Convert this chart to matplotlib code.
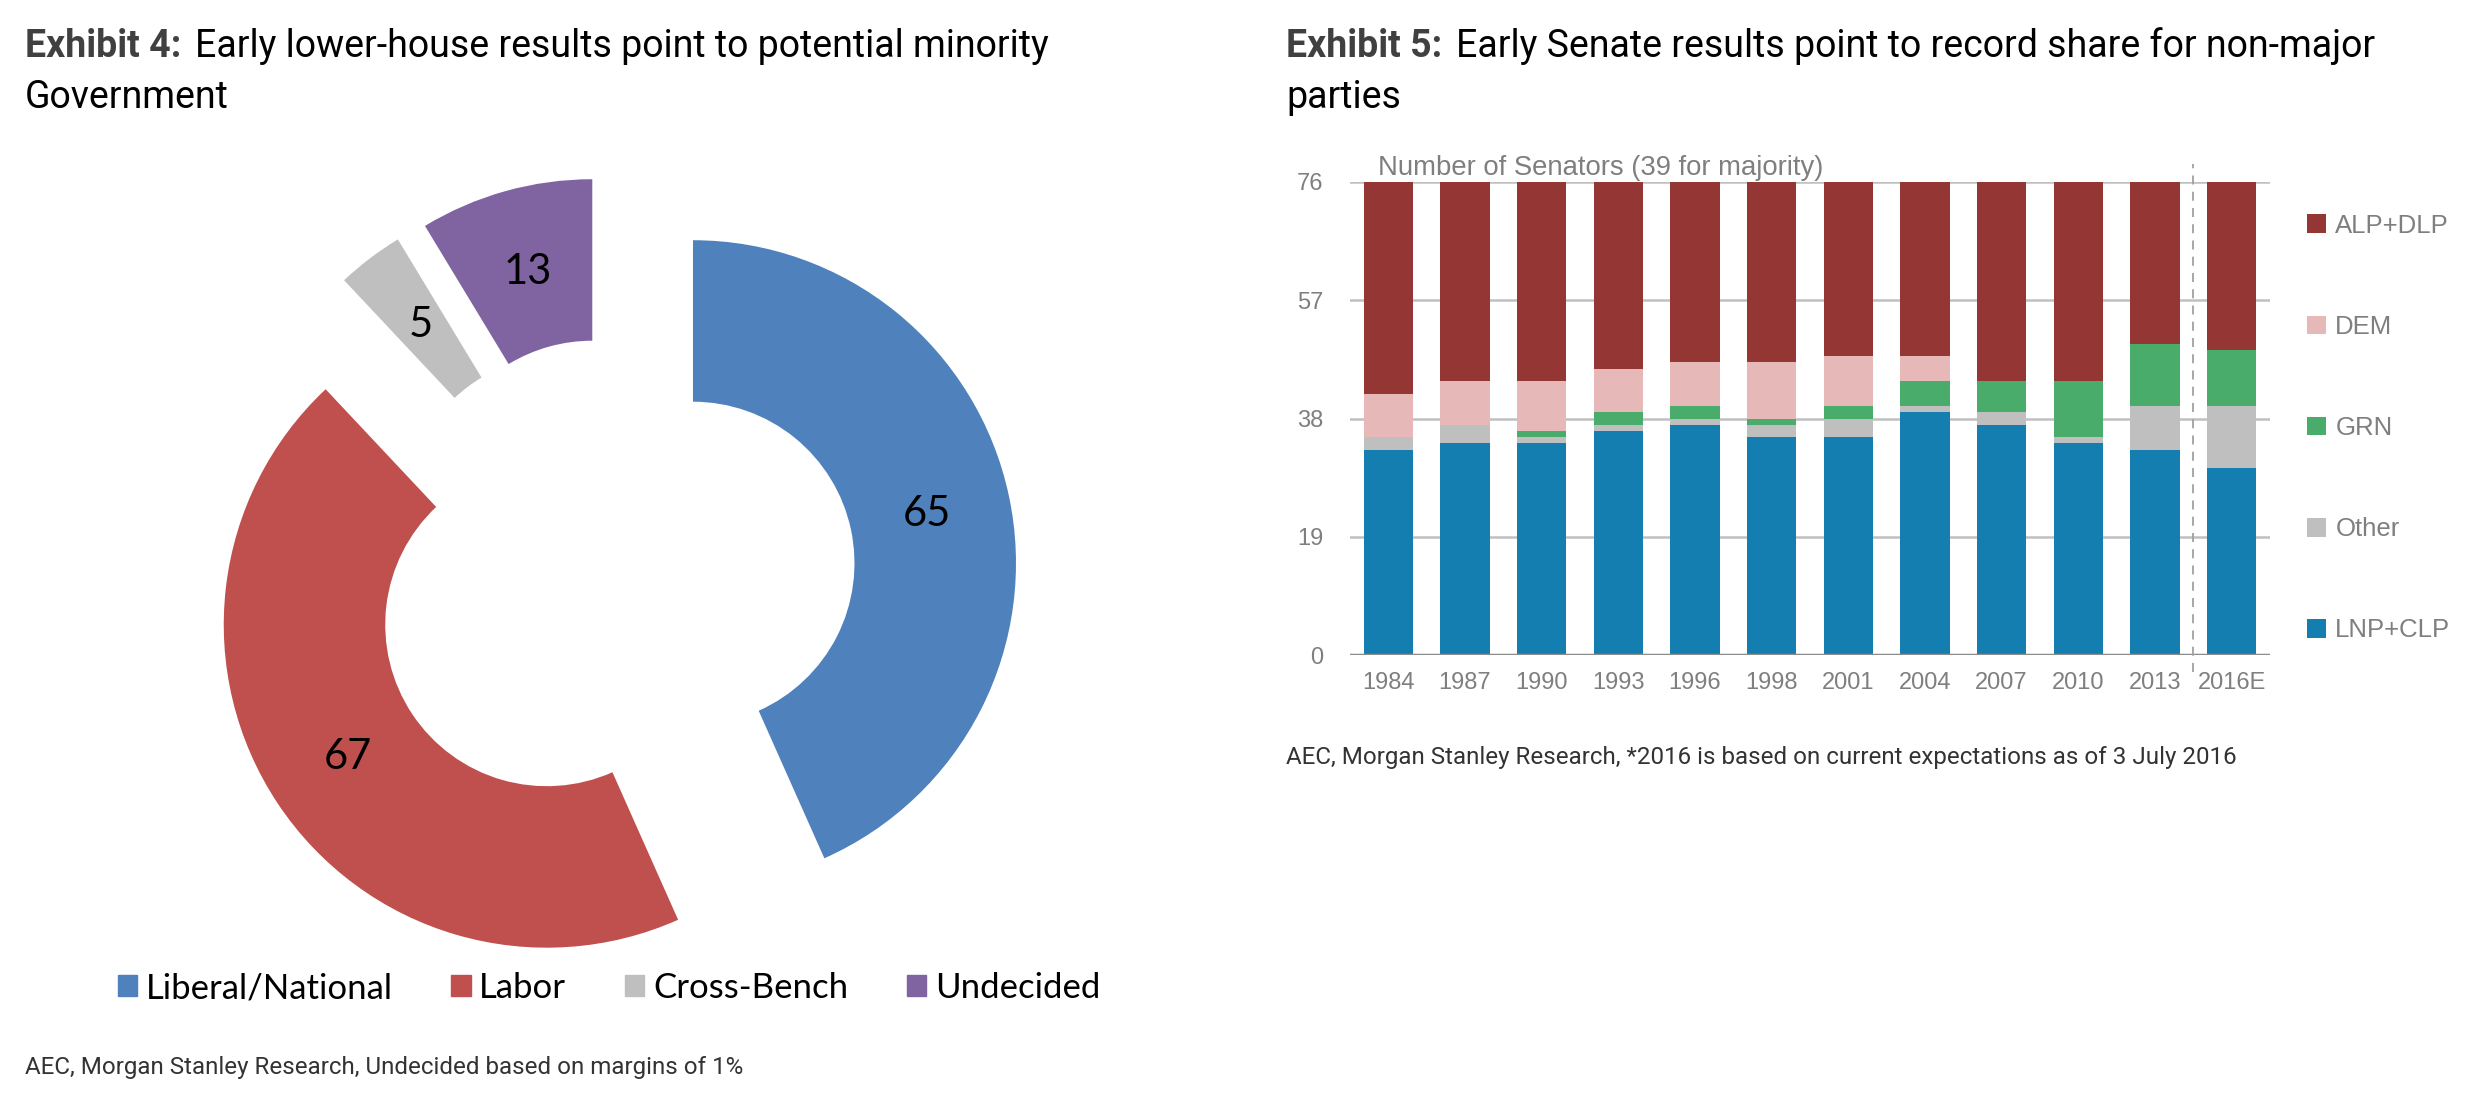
import matplotlib
matplotlib.use('Agg')
import matplotlib.pyplot as plt
from matplotlib.patches import Patch

W, H = 2474, 1099

# exhibit 4 - lower house
house_parties = ['Liberal/National', 'Labor', 'Cross-Bench', 'Undecided']
house_seats = [65, 67, 5, 13]
house_colors = ['#4F81BD', '#C0504D', '#BFBFBF', '#8064A2']

# exhibit 5 - senate
years = ['1984', '1987', '1990', '1993', '1996', '1998', '2001', '2004', '2007', '2010', '2013', '2016E']
lnp_clp = [33, 34, 34, 36, 37, 35, 35, 39, 37, 34, 33, 30]
other = [2, 3, 1, 1, 1, 2, 3, 1, 2, 1, 7, 10]
grn = [0, 0, 1, 2, 2, 1, 2, 4, 5, 9, 10, 9]
dem = [7, 7, 8, 7, 7, 9, 8, 4, 0, 0, 0, 0]
alp_dlp = [34, 32, 32, 30, 29, 29, 28, 28, 32, 32, 26, 27]
senate_ticks = [0, 19, 38, 57, 76]

NARROW = ['Roboto', 'DejaVu Sans']
ARIAL = ['Liberation Sans', 'DejaVu Sans']
CALIBRI = ['Lato', 'DejaVu Sans']
GREY = '#7F7F7F'
TSIZE = 27
FSIZE = 17.4


def fx(px):
    return px / W


def fy(py):
    return 1 - py / H


fig = plt.figure(figsize=(W / 100, H / 100), dpi=100)
renderer = fig.canvas.get_renderer()


def title(x, y, bold, rest):
    t = fig.text(fx(x), fy(y), bold, family=NARROW, weight='bold', size=TSIZE,
                 color='#404040', va='baseline')
    bb = t.get_window_extent(renderer)
    fig.text(bb.x1 / W + fx(14), fy(y), rest, family=NARROW, size=TSIZE,
             color='black', va='baseline')


# ---- donut ----
cx, cy, R = 614, 580, 323
half = 1.5 * R
ax1 = fig.add_axes([fx(cx - half), fy(cy + half), 2 * half / W, 2 * half / H])
wedges, texts, autotexts = ax1.pie(
    house_seats, colors=house_colors, startangle=90, counterclock=False,
    explode=[0.25] * 4, radius=1, wedgeprops=dict(width=0.5, linewidth=0),
    autopct=lambda p: '%d' % round(p * sum(house_seats) / 100), pctdistance=0.74,
    textprops=dict(family=CALIBRI, size=30, color='black'))
ax1.set_xlim(-1.5, 1.5)
ax1.set_ylim(-1.5, 1.5)
ax1.axis('off')

handles = [Patch(color=c, label=l) for c, l in zip(house_colors, house_parties)]
fig.legend(handles=handles, loc='center', bbox_to_anchor=(fx(609), fy(988)), ncol=4,
           frameon=False, prop=dict(family=CALIBRI, size=25), handlelength=0.55,
           handleheight=0.55, handletextpad=0.25, columnspacing=1.7, borderpad=0)

title(25, 57, 'Exhibit 4:', 'Early lower-house results point to potential minority')
fig.text(fx(25), fy(108), 'Government', family=NARROW, size=TSIZE, va='baseline')
fig.text(fx(25), fy(1074), 'AEC, Morgan Stanley Research, Undecided based on margins of 1%',
         family=NARROW, size=FSIZE, color='#333333', va='baseline')

# ---- senate bars ----
ax2 = fig.add_axes([fx(1350), fy(655), 920 / W, 473 / H])
x = list(range(len(years)))
series = [
    ('LNP+CLP', lnp_clp, '#157EB0'),
    ('Other', other, '#BFBFBF'),
    ('GRN', grn, '#4AAC6A'),
    ('DEM', dem, '#E6B8B7'),
    ('ALP+DLP', alp_dlp, '#943634'),
]
bottom = [0] * len(years)
bars = {}
for name, vals, col in series:
    bars[name] = ax2.bar(x, vals, bottom=bottom, width=0.64, color=col, zorder=3, label=name)
    bottom = [b + v for b, v in zip(bottom, vals)]

ax2.set_xlim(-0.5, 11.5)
ax2.set_ylim(0, 76)
ax2.set_yticks(senate_ticks)
ax2.set_xticks(x)
ax2.set_xticklabels(years)
ax2.tick_params(length=0, labelcolor=GREY, labelsize=17)
ax2.tick_params(axis='y', pad=19)
ax2.tick_params(axis='x', pad=12)
for lab in ax2.get_xticklabels() + ax2.get_yticklabels():
    lab.set_family(ARIAL)
for s in ax2.spines.values():
    s.set_visible(False)
for t in senate_ticks[1:]:
    ax2.axhline(t, color='#C0C0C0', lw=1.8, zorder=1)
ax2.axhline(0, color='#8C8C8C', lw=2.5, zorder=4)
ax2.plot([10.5, 10.5], [-2.7, 78.9], color='#A0A0A0', lw=1.3, ls=(0, (5, 4)),
         clip_on=False, zorder=5)
ax2.text(-0.14, 78.2, 'Number of Senators (39 for majority)', family=ARIAL, size=19.8,
         color=GREY, va='center', ha='left')

order = ['ALP+DLP', 'DEM', 'GRN', 'Other', 'LNP+CLP']
ax2.legend([bars[n] for n in order], order, loc='center left',
           bbox_to_anchor=(fx(2307), fy(428)), bbox_transform=fig.transFigure,
           frameon=False, prop=dict(family=ARIAL, size=18.5), labelcolor=GREY,
           handlelength=0.75, handleheight=0.75, handletextpad=0.35, labelspacing=3.0,
           borderpad=0, borderaxespad=0)

title(1286, 57, 'Exhibit 5:', 'Early Senate results point to record share for non-major')
fig.text(fx(1286), fy(108), 'parties', family=NARROW, size=TSIZE, va='baseline')
fig.text(fx(1286), fy(764),
         'AEC, Morgan Stanley Research, *2016 is based on current expectations as of 3 July 2016',
         family=NARROW, size=FSIZE, color='#333333', va='baseline')

fig.savefig('out.png', dpi=100)
